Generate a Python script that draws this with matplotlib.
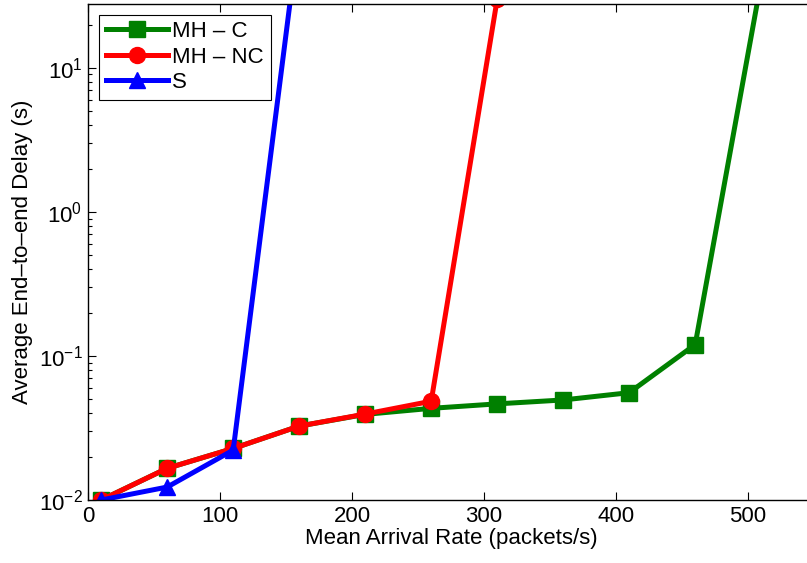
import matplotlib

matplotlib.use("Agg")

import matplotlib.pyplot as plt
from matplotlib.ticker import LogLocator, NullFormatter

plt.rcParams["font.family"] = ["Liberation Sans", "DejaVu Sans"]

# arrival rates (packets/s) and average delays (s)
rate_mh_c = [10, 60, 110, 160, 210, 260, 310, 360, 410, 460, 510]
delay_mh_c = [0.0100, 0.0166, 0.0228, 0.0326, 0.0393, 0.0433, 0.0465, 0.0495, 0.0556, 0.120, 40.0]

rate_mh_nc = [10, 60, 110, 160, 210, 260, 310]
delay_mh_nc = [0.0100, 0.0166, 0.0228, 0.0326, 0.0395, 0.0485, 30.0]

rate_s = [10, 60, 110, 160]
delay_s = [0.0100, 0.0123, 0.0222, 90.0]

series = [
    ("MH \u2013 C", rate_mh_c, delay_mh_c, "#008000", "s"),
    ("MH \u2013 NC", rate_mh_nc, delay_mh_nc, "#ff0000", "o"),
    ("S", rate_s, delay_s, "#0000ff", "^"),
]

W, H = 807, 563
fig = plt.figure(figsize=(W / 100, H / 100), dpi=100)
# axes runs a little past the right edge of the picture, as in the reference
left, right, top, bottom = 88, 814, 3.5, 500
ax = fig.add_axes([left / W, 1 - bottom / H, (right - left) / W, (bottom - top) / H])

for label, x, y, color, marker in series:
    ax.plot(x, y, color=color, marker=marker, markersize=11.5, linewidth=3.6,
            markeredgecolor=color, label=label)

ax.set_yscale("log")
ax.set_xlim(0, 550)
ax.set_ylim(0.01, 28)
ax.set_xticks([0, 100, 200, 300, 400, 500])
ax.yaxis.set_major_locator(LogLocator(base=10, numticks=10))
ax.yaxis.set_minor_locator(LogLocator(base=10, subs=range(2, 10), numticks=20))
ax.yaxis.set_minor_formatter(NullFormatter())

ax.tick_params(which="both", direction="in", top=True, right=False, labelsize=16)
ax.tick_params(which="major", length=6, width=0.8, pad=4)
ax.tick_params(which="minor", length=3, width=0.8)
for s in ax.spines.values():
    s.set_linewidth(1.0)

ax.set_xlabel("Mean Arrival Rate (packets/s)", fontsize=16, labelpad=1)
ax.set_ylabel("Average End\u2013to\u2013end Delay (s)", fontsize=16, labelpad=4)

leg = ax.legend(loc="upper left", fontsize=16, fancybox=False, edgecolor="black",
                framealpha=1, handlelength=2.8, borderaxespad=0.5,
                handletextpad=0.2, labelspacing=0.2, borderpad=0.3)
leg.get_frame().set_linewidth(0.8)

fig.savefig("out.png", dpi=100)
